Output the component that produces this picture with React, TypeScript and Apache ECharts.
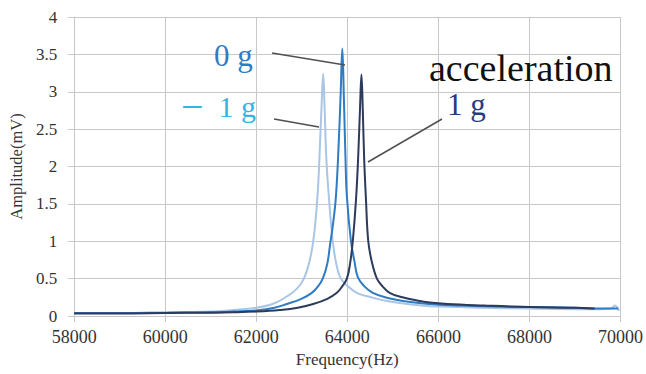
import React, { useEffect, useRef } from "react";
import * as echarts from "echarts";

// -1 g series
const freqMinus1 = [58000, 59000, 60000, 61000, 61500, 62000, 62400, 62740, 62900, 63020, 63120, 63220, 63290, 63350, 63400, 63440, 63470, 63500, 63540, 63600, 63680, 63750, 63840, 63970, 64210, 64470, 64870, 65470, 65810, 66500, 67000, 68000, 69000, 69500, 69800, 69870, 69920, 69970];
const ampMinus1 = [0.04, 0.04, 0.045, 0.06, 0.08, 0.11, 0.17, 0.29, 0.37, 0.47, 0.62, 0.88, 1.2, 1.65, 2.3, 2.9, 3.24, 2.8, 2.1, 1.55, 1.0, 0.72, 0.52, 0.42, 0.31, 0.26, 0.2, 0.15, 0.13, 0.12, 0.11, 0.1, 0.09, 0.09, 0.1, 0.14, 0.12, 0.07];

// 0 g series
const freqZero = [58000, 59000, 60000, 61000, 61500, 62000, 62400, 62670, 62990, 63220, 63360, 63460, 63560, 63620, 63690, 63750, 63810, 63855, 63890, 63925, 63960, 63990, 64080, 64160, 64230, 64370, 64560, 64890, 65220, 65790, 66500, 67000, 68000, 69000, 69500, 69950];
const ampZero = [0.04, 0.04, 0.045, 0.05, 0.06, 0.075, 0.11, 0.16, 0.23, 0.31, 0.4, 0.5, 0.7, 0.95, 1.25, 1.6, 2.3, 3.0, 3.58, 2.9, 2.1, 1.6, 1.0, 0.72, 0.52, 0.4, 0.31, 0.24, 0.2, 0.16, 0.14, 0.13, 0.12, 0.11, 0.1, 0.1];

// 1 g series
const freqPlus1 = [58000, 59000, 60000, 61000, 61500, 62010, 62510, 62910, 63250, 63560, 63770, 63890, 63990, 64060, 64120, 64190, 64240, 64280, 64310, 64340, 64370, 64410, 64460, 64540, 64650, 64770, 64930, 65210, 65510, 65810, 66200, 67000, 68000, 69000, 69430];
const ampPlus1 = [0.035, 0.035, 0.04, 0.045, 0.05, 0.06, 0.08, 0.11, 0.16, 0.23, 0.31, 0.4, 0.5, 0.7, 1.0, 1.55, 2.15, 2.8, 3.23, 2.75, 2.1, 1.55, 1.0, 0.72, 0.5, 0.4, 0.31, 0.25, 0.21, 0.18, 0.16, 0.14, 0.12, 0.11, 0.1];

const seriesNames = ["− 1 g", "0 g", "1 g"];
const xTicks = { min: 58000, max: 70000, interval: 2000 };
const yTicks = { min: 0, max: 4, interval: 0.5 };

const SERIF = '"Liberation Serif", "Times New Roman", serif';

function pairs(xs: number[], ys: number[]) {
  return xs.map((x, i) => [x, ys[i]]);
}

export default function App() {
  const ref = useRef<HTMLDivElement>(null);
  useEffect(() => {
    if (!ref.current) return;
    const chart = echarts.init(ref.current, undefined, { renderer: "svg" });
    const gridColor = "#c8c8c8";
    const lineStyleBase = { width: 2 };
    const mk = (i: number, xs: number[], ys: number[], color: string) => ({
      name: seriesNames[i],
      type: "line",
      data: pairs(xs, ys),
      showSymbol: false,
      smooth: 0.4,
      lineStyle: { ...lineStyleBase, color },
      itemStyle: { color },
    });
    chart.setOption({
      animation: false,
      backgroundColor: "#ffffff",
      grid: { left: 74, right: 25, top: 17, bottom: 58, containLabel: false },
      xAxis: {
        type: "value",
        min: xTicks.min,
        max: xTicks.max,
        interval: xTicks.interval,
        name: "Frequency(Hz)",
        nameLocation: "middle",
        nameGap: 33,
        nameTextStyle: { fontFamily: SERIF, fontSize: 17, color: "#333" },
        axisLine: { show: true, lineStyle: { color: gridColor } },
        axisTick: { show: true, length: 6, lineStyle: { color: gridColor } },
        axisLabel: { fontFamily: SERIF, fontSize: 18, color: "#333", margin: 12, formatter: (v: number) => String(v) },
        splitLine: { show: true, lineStyle: { color: gridColor, width: 1 } },
      },
      yAxis: {
        type: "value",
        min: yTicks.min,
        max: yTicks.max,
        interval: yTicks.interval,
        name: "Amplitude(mV)",
        nameLocation: "middle",
        nameGap: 38,
        nameTextStyle: { fontFamily: SERIF, fontSize: 16.5, color: "#333" },
        axisLine: { show: true, lineStyle: { color: gridColor } },
        axisTick: { show: true, length: 6, lineStyle: { color: gridColor } },
        axisLabel: { fontFamily: SERIF, fontSize: 17, color: "#333", margin: 17 },
        splitLine: { show: true, lineStyle: { color: gridColor, width: 1 } },
      },
      series: [
        mk(0, freqMinus1, ampMinus1, "#a9c6e4"),
        mk(1, freqZero, ampZero, "#2f7bc4"),
        mk(2, freqPlus1, ampPlus1, "#2c3a5c"),
      ],
      graphic: [
        { type: "line", shape: { x1: 272, y1: 53, x2: 345, y2: 65 }, style: { stroke: "#505050", lineWidth: 1.5 }, z: 100 },
        { type: "line", shape: { x1: 274, y1: 119, x2: 319, y2: 127 }, style: { stroke: "#505050", lineWidth: 1.5 }, z: 100 },
        { type: "line", shape: { x1: 442, y1: 119, x2: 368, y2: 162 }, style: { stroke: "#505050", lineWidth: 1.5 }, z: 100 },
        { type: "text", x: 214, y: 55, style: { text: "0 g", fontFamily: SERIF, fontSize: 31, fill: "#2e7cc4", verticalAlign: "middle", align: "left" }, z: 100 },
        {
          type: "text",
          x: 181,
          y: 126,
          style: {
            text: "{m|\u2212}\u20021 g",
            fontFamily: SERIF,
            fontSize: 30,
            fill: "#35b5e2",
            verticalAlign: "bottom",
            align: "left",
            rich: { m: { fontFamily: SERIF, fontSize: 40, fill: "#35b5e2", verticalAlign: "bottom" } },
          },
          z: 100,
        },
        { type: "text", x: 447, y: 104, style: { text: "1 g", fontFamily: SERIF, fontSize: 31, fill: "#283c7c", verticalAlign: "middle", align: "left" }, z: 100 },
        { type: "text", x: 429, y: 68, style: { text: "acceleration", fontFamily: SERIF, fontSize: 38, fill: "#111111", verticalAlign: "middle", align: "left" }, z: 100 },
      ],
    });
    return () => chart.dispose();
  }, []);
  return <div ref={ref} style={{ width: 646, height: 374, position: "absolute", left: 0, top: 0 }} />;
}
